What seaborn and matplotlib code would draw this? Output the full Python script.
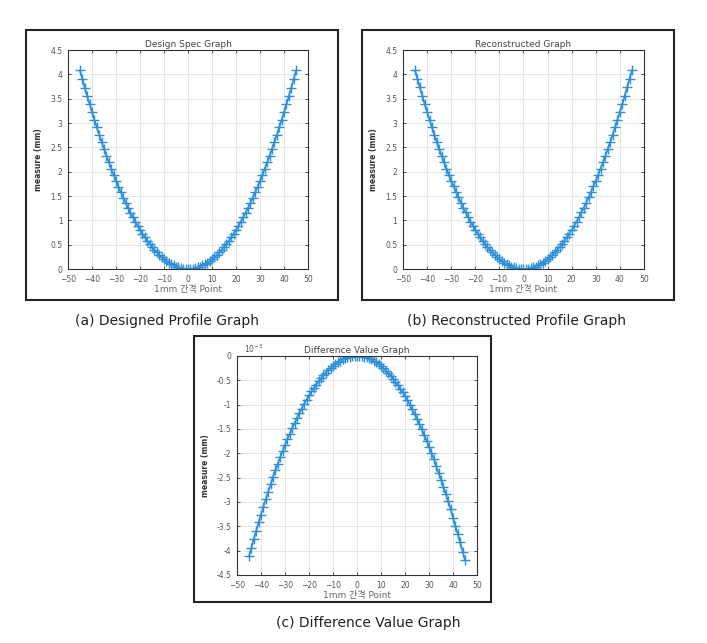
import numpy as np
import pandas as pd
import matplotlib
matplotlib.use('Agg')
import matplotlib.pyplot as plt
import seaborn as sns
from matplotlib.patches import Rectangle

sns.set_theme(style='white')
plt.rcParams['font.family'] = ['DejaVu Sans', 'Noto Sans CJK KR']

# measuring points, 1mm apart
x_points = [-45, -44, -43, -42, -41, -40, -39, -38, -37, -36,
            -35, -34, -33, -32, -31, -30, -29, -28, -27, -26,
            -25, -24, -23, -22, -21, -20, -19, -18, -17, -16,
            -15, -14, -13, -12, -11, -10, -9, -8, -7, -6,
            -5, -4, -3, -2, -1, 0, 1, 2, 3, 4,
            5, 6, 7, 8, 9, 10, 11, 12, 13, 14,
            15, 16, 17, 18, 19, 20, 21, 22, 23, 24,
            25, 26, 27, 28, 29, 30, 31, 32, 33, 34,
            35, 36, 37, 38, 39, 40, 41, 42, 43, 44, 45]

design_mm = [4.080, 3.901, 3.726, 3.554, 3.387, 3.224, 3.065, 2.910, 2.759, 2.611,
             2.468, 2.329, 2.194, 2.063, 1.936, 1.814, 1.695, 1.580, 1.469, 1.362,
             1.259, 1.161, 1.066, 0.975, 0.889, 0.806, 0.727, 0.653, 0.582, 0.516,
             0.453, 0.395, 0.341, 0.290, 0.244, 0.202, 0.163, 0.129, 0.099, 0.073,
             0.050, 0.032, 0.018, 0.008, 0.002, 0.000, 0.002, 0.008, 0.018, 0.032,
             0.050, 0.073, 0.099, 0.129, 0.163, 0.202, 0.244, 0.290, 0.341, 0.395,
             0.453, 0.516, 0.582, 0.653, 0.727, 0.806, 0.889, 0.975, 1.066, 1.161,
             1.259, 1.362, 1.469, 1.580, 1.695, 1.814, 1.936, 2.063, 2.194, 2.329,
             2.468, 2.611, 2.759, 2.910, 3.065, 3.224, 3.387, 3.554, 3.726, 3.901, 4.080]

recon_mm = [4.084, 3.905, 3.730, 3.558, 3.390, 3.227, 3.068, 2.913, 2.762, 2.614,
            2.470, 2.331, 2.196, 2.065, 1.938, 1.816, 1.697, 1.582, 1.470, 1.363,
            1.260, 1.162, 1.067, 0.976, 0.890, 0.807, 0.728, 0.654, 0.583, 0.517,
            0.453, 0.395, 0.341, 0.290, 0.244, 0.202, 0.163, 0.129, 0.099, 0.073,
            0.050, 0.032, 0.018, 0.008, 0.002, 0.000, 0.002, 0.008, 0.018, 0.032,
            0.050, 0.073, 0.099, 0.129, 0.163, 0.202, 0.244, 0.290, 0.341, 0.395,
            0.453, 0.517, 0.583, 0.654, 0.728, 0.807, 0.890, 0.976, 1.067, 1.162,
            1.260, 1.363, 1.471, 1.582, 1.697, 1.816, 1.938, 2.065, 2.196, 2.331,
            2.471, 2.614, 2.762, 2.913, 3.068, 3.227, 3.390, 3.558, 3.730, 3.905, 4.084]

# difference in units of 1e-3 mm
diff_e3 = [-4.12, -3.94, -3.76, -3.59, -3.42, -3.26, -3.10, -2.94, -2.79, -2.64,
           -2.49, -2.35, -2.22, -2.08, -1.96, -1.83, -1.71, -1.60, -1.48, -1.38,
           -1.27, -1.17, -1.08, -0.98, -0.90, -0.81, -0.73, -0.66, -0.59, -0.52,
           -0.46, -0.40, -0.34, -0.29, -0.25, -0.20, -0.16, -0.13, -0.10, -0.07,
           -0.05, -0.03, -0.02, -0.01, 0.00, 0.00, 0.00, -0.01, -0.02, -0.03,
           -0.05, -0.07, -0.10, -0.13, -0.17, -0.21, -0.25, -0.30, -0.35, -0.41,
           -0.47, -0.53, -0.60, -0.67, -0.75, -0.83, -0.91, -1.00, -1.10, -1.19,
           -1.30, -1.40, -1.51, -1.63, -1.74, -1.87, -1.99, -2.12, -2.26, -2.40,
           -2.54, -2.69, -2.84, -2.99, -3.15, -3.32, -3.49, -3.66, -3.83, -4.02, -4.20]

x_ticks = [-50, -40, -30, -20, -10, 0, 10, 20, 30, 40, 50]
up_ticks = [0, 0.5, 1, 1.5, 2, 2.5, 3, 3.5, 4, 4.5]
down_ticks = [0, -0.5, -1, -1.5, -2, -2.5, -3, -3.5, -4, -4.5]

titles = ['Design Spec Graph', 'Reconstructed Graph', 'Difference Value Graph']
captions = ['(a) Designed Profile Graph', '(b) Reconstructed Profile Graph',
            '(c) Difference Value Graph']

line_color = '#2e90d8'

fig = plt.figure(figsize=(7.07, 6.43), dpi=100)

# black frames around each sub figure
for fx, fy, fw, fh in [(0.0368, 0.5334, 0.4413, 0.4199),
                       (0.5120, 0.5334, 0.4413, 0.4199),
                       (0.2744, 0.0638, 0.4201, 0.4137)]:
    fig.patches.append(Rectangle((fx, fy), fw, fh, transform=fig.transFigure,
                                 fill=False, edgecolor='#222222', linewidth=1.5))

ax_a = fig.add_axes([0.0962, 0.5816, 0.3395, 0.3406])
ax_b = fig.add_axes([0.5700, 0.5816, 0.3409, 0.3406])
ax_c = fig.add_axes([0.3352, 0.1058, 0.3395, 0.3406])


def draw_panel(ax, yvals, title, yticks, ylim):
    df = pd.DataFrame({'x': x_points, 'y': yvals})
    sns.lineplot(data=df, x='x', y='y', ax=ax, color=line_color, linewidth=1.3,
                 marker='+', markersize=7, markeredgewidth=1.0,
                 markeredgecolor=line_color)
    ax.set_xlim(-50, 50)
    ax.set_ylim(*ylim)
    ax.set_xticks(x_ticks)
    ax.set_yticks(yticks)
    ax.set_yticklabels([f'{t:g}' for t in yticks])
    ax.grid(True, color='#e2e2e2', linewidth=0.6)
    ax.tick_params(direction='in', length=2.5, width=0.6, labelsize=5.5,
                   labelcolor='#555555', color='#333333',
                   top=True, right=True, bottom=True, left=True)
    ax.tick_params(axis='x', pad=4)
    ax.tick_params(axis='y', pad=4)
    for s in ax.spines.values():
        s.set_color('#333333')
        s.set_linewidth(0.8)
        s.set_visible(True)
    ax.set_title(title, fontsize=6.5, color='#444444', pad=2)
    ax.set_xlabel('1mm 간격 Point', fontsize=6.5, color='#666666', labelpad=1)
    ax.set_ylabel('measure (mm)', fontsize=5.5, color='#333333',
                  fontweight='bold', labelpad=5)


draw_panel(ax_a, design_mm, titles[0], up_ticks, (0, 4.5))
draw_panel(ax_b, recon_mm, titles[1], up_ticks, (0, 4.5))
draw_panel(ax_c, diff_e3, titles[2], down_ticks, (-4.5, 0))
ax_c.text(0.03, 1.005, r'10$^{-3}$', transform=ax_c.transAxes, fontsize=5.5,
          color='#555555', ha='left', va='bottom')

fig.text(0.236, 1 - 321 / 643, captions[0], ha='center', va='center',
         fontsize=10, color='#222222')
fig.text(0.730, 1 - 321 / 643, captions[1], ha='center', va='center',
         fontsize=10, color='#222222')
fig.text(0.521, 1 - 623 / 643, captions[2], ha='center', va='center',
         fontsize=10, color='#222222')

fig.savefig('out.png', dpi=100)
